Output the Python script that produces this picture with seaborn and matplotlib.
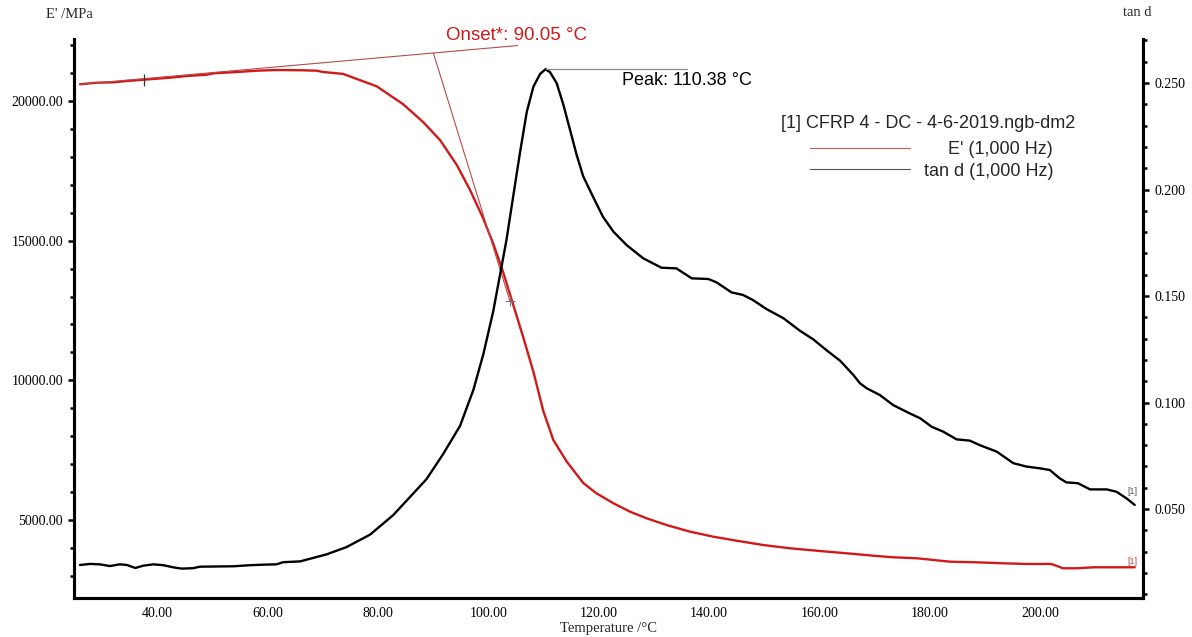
import numpy as np
import pandas as pd
import matplotlib
matplotlib.use("Agg")
import matplotlib.pyplot as plt
from matplotlib.ticker import MultipleLocator, FormatStrFormatter
from matplotlib.lines import Line2D
import seaborn as sns

# Storage modulus E' (MPa) vs temperature (°C)
temp_e = [26.0, 29.0, 32.0, 33.9, 37.5, 42.3, 45.3, 49.0, 50.2, 54.4, 58.0, 61.6,
          66.5, 68.9, 70.1, 73.7, 79.8, 84.6, 88.2, 91.25, 94.3, 96.7, 99.1,
          100.9, 102.7, 104.5, 106.3, 108.2, 110.0, 111.8, 114.2, 117.2, 119.6,
          122.7, 125.7, 128.7, 132.3, 136.6, 140.8, 145.0, 149.8, 154.7, 160.1,
          165.0, 170.4, 173.4, 177.7, 179.5, 183.7, 188.5, 193.4, 197.6, 202.1,
          204.2, 206.7, 209.7, 217.2]
storage_modulus = [20598, 20655, 20669, 20705, 20763, 20834, 20895, 20942, 20992,
                   21038, 21085, 21110, 21099, 21085, 21038, 20970, 20523, 19882,
                   19245, 18604, 17709, 16814, 15790, 14895, 13875, 12722, 11573,
                   10294, 8888, 7864, 7098, 6328, 5956, 5598, 5297, 5061, 4821,
                   4581, 4402, 4259, 4105, 3987, 3890, 3807, 3711, 3665, 3629,
                   3593, 3507, 3485, 3449, 3425, 3425, 3271, 3271, 3307, 3307]

# Loss factor tan d vs temperature (°C)
temp_tan = [26.0, 27.8, 29.6, 31.4, 33.2, 34.5, 36.0, 37.5, 39.3, 41.1, 42.9, 44.4,
            46.5, 47.7, 53.8, 56.8, 59.8, 61.6, 62.8, 65.9, 70.7, 74.3, 78.6,
            82.8, 85.8, 88.8, 91.8, 94.9, 97.3, 99.1, 100.9, 102.1, 103.3, 104.5,
            105.7, 107.0, 108.2, 109.4, 110.38, 111.2, 112.4, 113.6, 114.8, 116.0,
            117.2, 119.0, 120.8, 122.7, 125.1, 128.1, 131.4, 134.1, 136.9, 139.9,
            141.4, 144.1, 146.2, 148.0, 150.5, 153.5, 156.5, 158.9, 161.3, 163.8,
            166.2, 167.4, 168.6, 171.0, 173.4, 176.4, 178.3, 180.4, 182.5, 184.9,
            187.3, 189.1, 192.2, 195.2, 197.6, 200.0, 201.8, 203.6, 204.8, 206.9,
            209.1, 212.1, 213.9, 215.7, 217.2]
tan_delta = [0.0237, 0.0242, 0.0240, 0.0232, 0.0240, 0.0237, 0.0223, 0.0234, 0.0240,
             0.0236, 0.0226, 0.0220, 0.0222, 0.0229, 0.0231, 0.0236, 0.0239, 0.0240,
             0.0250, 0.0254, 0.0287, 0.0321, 0.0380, 0.0472, 0.0556, 0.0640, 0.0757,
             0.0891, 0.1059, 0.1226, 0.1428, 0.1595, 0.1763, 0.1964, 0.2165, 0.2367,
             0.2484, 0.2543, 0.2565, 0.2551, 0.2500, 0.2400, 0.2283, 0.2165, 0.2063,
             0.1966, 0.1872, 0.1802, 0.1739, 0.1677, 0.1633, 0.1630, 0.1583, 0.1580,
             0.1564, 0.1517, 0.1505, 0.1481, 0.1438, 0.1396, 0.1337, 0.1297, 0.1246,
             0.1196, 0.1129, 0.1090, 0.1067, 0.1035, 0.0988, 0.0949, 0.0926, 0.0886,
             0.0863, 0.0827, 0.0821, 0.0800, 0.0769, 0.0715, 0.0699, 0.0691, 0.0683,
             0.0644, 0.0625, 0.0621, 0.0592, 0.0592, 0.0581, 0.0550, 0.0519]

# Evaluation results
onset_temp = 90.05
peak_temp = 110.38
peak_tan = 0.2565
baseline_tangent_temp = [26.0, 105.3]
baseline_tangent_mod = [20598, 21986]
baseline_point_temp = 37.5
inflection_temp = 103.9
inflection_mod = 12850
peak_line_end_temp = 136.0

series_name = "[1] CFRP 4 - DC - 4-6-2019.ngb-dm2"
legend_labels = ["E' (1,000 Hz)", "tan d (1,000 Hz)"]

x_ticks = [40, 60, 80, 100, 120, 140, 160, 180, 200]
e_ticks = [5000, 10000, 15000, 20000]
tan_ticks = [0.05, 0.10, 0.15, 0.20, 0.25]

RED = "#d01a1a"
TANGENT = "#b84a4a"
SANS = ["Liberation Sans", "DejaVu Sans"]

sns.set_theme(style="white")
plt.rcParams["font.family"] = ["Liberation Serif", "DejaVu Serif"]

W, H = 1192, 637
fig = plt.figure(figsize=(W / 100, H / 100), dpi=100)
ax = fig.add_axes([74 / W, 1 - 598 / H, (1143 - 74) / W, (598 - 39) / H])
ax2 = ax.twinx()

df_e = pd.DataFrame({"Temperature": temp_e, "E": storage_modulus})
df_t = pd.DataFrame({"Temperature": temp_tan, "tan": tan_delta})
sns.lineplot(data=df_e, x="Temperature", y="E", ax=ax, color=RED,
             linewidth=1.7, estimator=None, sort=False)
sns.lineplot(data=df_t, x="Temperature", y="tan", ax=ax2, color="black",
             linewidth=1.7, estimator=None, sort=False)

# Onset construction: baseline tangent and inflection tangent
onset_mod = np.interp(onset_temp, baseline_tangent_temp, baseline_tangent_mod)
ax.plot(baseline_tangent_temp, baseline_tangent_mod, color=TANGENT, lw=0.8)
ax.plot([onset_temp, inflection_temp], [onset_mod, inflection_mod],
        color=TANGENT, lw=0.8)
base_mod = np.interp(baseline_point_temp, temp_e, storage_modulus)
ax.plot([baseline_point_temp], [base_mod], marker="|", ms=9, mew=0.9,
        color="#333333")
ax.plot([inflection_temp], [inflection_mod], marker="+", ms=7, mew=0.8,
        color="#777777")
ax.text(92.3, 22330, f"Onset*: {onset_temp:.2f} °C", color=RED,
        fontsize=13.5, family=SANS, ha="left", va="center")

# Peak of tan d
ax2.plot([peak_temp, peak_line_end_temp], [peak_tan, peak_tan],
         color="#8a8a8a", lw=0.9)
ax2.text(124.2, 0.2514, f"Peak: {peak_temp:.2f} °C", color="black",
         fontsize=13, family=SANS, ha="left", va="center")

# Curve end labels
ax.text(216.7, 3514, "[1]", color="#c84040", fontsize=6.5, family=SANS,
        ha="center", va="center")
ax2.text(216.7, 0.0582, "[1]", color="#555555", fontsize=6.5, family=SANS,
         ha="center", va="center")

# Axis limits and ticks
ax.set_xlim(24.9, 218.7)
ax.set_ylim(2207, 22220)
ax2.set_ylim(0.0082, 0.2707)
ax.set_xticks(x_ticks)
ax.set_yticks(e_ticks)
ax2.set_yticks(tan_ticks)
ax.xaxis.set_minor_locator(MultipleLocator(10))
ax.yaxis.set_minor_locator(MultipleLocator(1000))
ax2.yaxis.set_minor_locator(MultipleLocator(0.01))
ax.xaxis.set_major_formatter(FormatStrFormatter("%.2f"))
ax.yaxis.set_major_formatter(FormatStrFormatter("%.2f"))
ax2.yaxis.set_major_formatter(FormatStrFormatter("%.3f"))

for a in (ax, ax2):
    a.spines["top"].set_visible(False)
    for s in ("left", "right", "bottom"):
        a.spines[s].set_linewidth(2.2)
        a.spines[s].set_color("black")
    a.tick_params(which="major", direction="out", length=4, width=1.8,
                  labelsize=10, colors="black", pad=4)
    a.tick_params(which="minor", direction="out", length=3, width=1.8,
                  colors="black")
    a.grid(False)
ax.tick_params(axis="x", which="major", pad=2.5)

ax.set_xlabel("Temperature /°C", fontsize=10.5, va="center")
ax.xaxis.set_label_coords((608.5 - 74) / 1069, (598 - 628.5) / 559)
ax.set_ylabel("E' /MPa", fontsize=10.5, rotation=0, ha="center", va="center")
ax.yaxis.set_label_coords((69 - 74) / 1069, (598 - 15) / 559)
ax2.set_ylabel("tan d", fontsize=10.5, rotation=0, ha="center", va="center")
ax2.yaxis.set_label_coords((1137 - 74) / 1069, (598 - 13) / 559)

# Legend block
fig.text(781 / W, 1 - 123 / H, series_name, fontsize=13, family=SANS,
         ha="left", va="center")
fig.add_artist(Line2D([810 / W, 910 / W], [1 - 148 / H] * 2, color="#c85a5a",
                      lw=0.8))
fig.add_artist(Line2D([810 / W, 910 / W], [1 - 169 / H] * 2, color="#555555",
                      lw=0.8))
fig.text(1053 / W, 1 - 149 / H, legend_labels[0], fontsize=13, family=SANS,
         ha="right", va="center")
fig.text(1053 / W, 1 - 171 / H, legend_labels[1], fontsize=13, family=SANS,
         ha="right", va="center")

fig.savefig("out.png", dpi=100, facecolor="white")
